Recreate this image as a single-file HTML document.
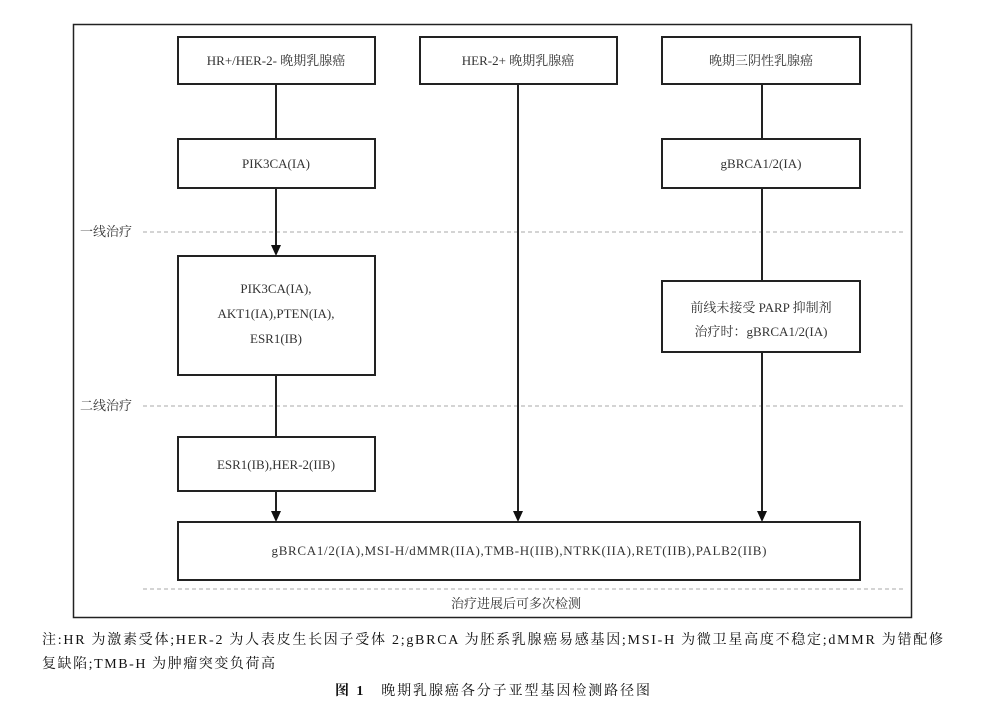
<!DOCTYPE html>
<html><head><meta charset="utf-8"><style>
html,body{margin:0;padding:0;background:#fff;}
svg text{font-family:"Liberation Serif","Noto Serif CJK SC","Noto Sans CJK SC",serif;fill:#333;}
</style></head><body>
<svg width="984" height="722" viewBox="0 0 984 722" xmlns="http://www.w3.org/2000/svg">
<rect x="73.5" y="24.5" width="838" height="593" fill="none" stroke="#222" stroke-width="1.5"/>
<g fill="#fff" stroke="#222" stroke-width="2">
<rect x="178" y="37" width="197" height="47"/>
<rect x="420" y="37" width="197" height="47"/>
<rect x="662" y="37" width="198" height="47"/>
<rect x="178" y="139" width="197" height="49"/>
<rect x="662" y="139" width="198" height="49"/>
<rect x="178" y="256" width="197" height="119"/>
<rect x="662" y="281" width="198" height="71"/>
<rect x="178" y="437" width="197" height="54"/>
<rect x="178" y="522" width="682" height="58"/>
</g>
<g stroke="#aaa" stroke-width="1" stroke-dasharray="4,3">
<line x1="143" y1="232" x2="905" y2="232"/>
<line x1="143" y1="406" x2="905" y2="406"/>
<line x1="143" y1="589" x2="905" y2="589"/>
</g>
<g stroke="#222" stroke-width="2" fill="none">
<line x1="276" y1="84" x2="276" y2="139"/>
<line x1="276" y1="188" x2="276" y2="246"/>
<line x1="276" y1="375" x2="276" y2="437"/>
<line x1="276" y1="491" x2="276" y2="512"/>
<line x1="518" y1="84" x2="518" y2="512"/>
<line x1="762" y1="84" x2="762" y2="139"/>
<line x1="762" y1="188" x2="762" y2="281"/>
<line x1="762" y1="352" x2="762" y2="512"/>
</g>
<g fill="#111">
<polygon points="271,245 281,245 276,256"/>
<polygon points="271,511 281,511 276,522"/>
<polygon points="513,511 523,511 518,522"/>
<polygon points="757,511 767,511 762,522"/>
</g>
<g font-size="13" text-anchor="middle">
<text x="276" y="65">HR+/HER-2- 晚期乳腺癌</text>
<text x="518" y="65">HER-2+ 晚期乳腺癌</text>
<text x="761" y="65">晚期三阴性乳腺癌</text>
<text x="276" y="168">PIK3CA(IA)</text>
<text x="761" y="168">gBRCA1/2(IA)</text>
<text x="276" y="293">PIK3CA(IA),</text>
<text x="276" y="318">AKT1(IA),PTEN(IA),</text>
<text x="276" y="343">ESR1(IB)</text>
<text x="761" y="312">前线未接受 PARP 抑制剂</text>
<text x="761" y="336">治疗时：gBRCA1/2(IA)</text>
<text x="276" y="469">ESR1(IB),HER-2(IIB)</text>
<text x="519" y="555" textLength="495" lengthAdjust="spacing">gBRCA1/2(IA),MSI-H/dMMR(IIA),TMB-H(IIB),NTRK(IIA),RET(IIB),PALB2(IIB)</text>
<text x="516" y="608">治疗进展后可多次检测</text>
</g>
<g font-size="13">
<text x="80" y="236">一线治疗</text>
<text x="80" y="410">二线治疗</text>
</g>
<g font-size="14">
<text x="42" y="644" style="fill:#111" textLength="901" lengthAdjust="spacing">注:HR 为激素受体;HER-2 为人表皮生长因子受体 2;gBRCA 为胚系乳腺癌易感基因;MSI-H 为微卫星高度不稳定;dMMR 为错配修</text>
<text x="42" y="668" style="fill:#111" textLength="233" lengthAdjust="spacing">复缺陷;TMB-H 为肿瘤突变负荷高</text>
<text x="335" y="695" style="fill:#111" textLength="315" lengthAdjust="spacing"><tspan font-weight="bold">图 1</tspan>　晚期乳腺癌各分子亚型基因检测路径图</text>
</g>
</svg>
</body></html>
